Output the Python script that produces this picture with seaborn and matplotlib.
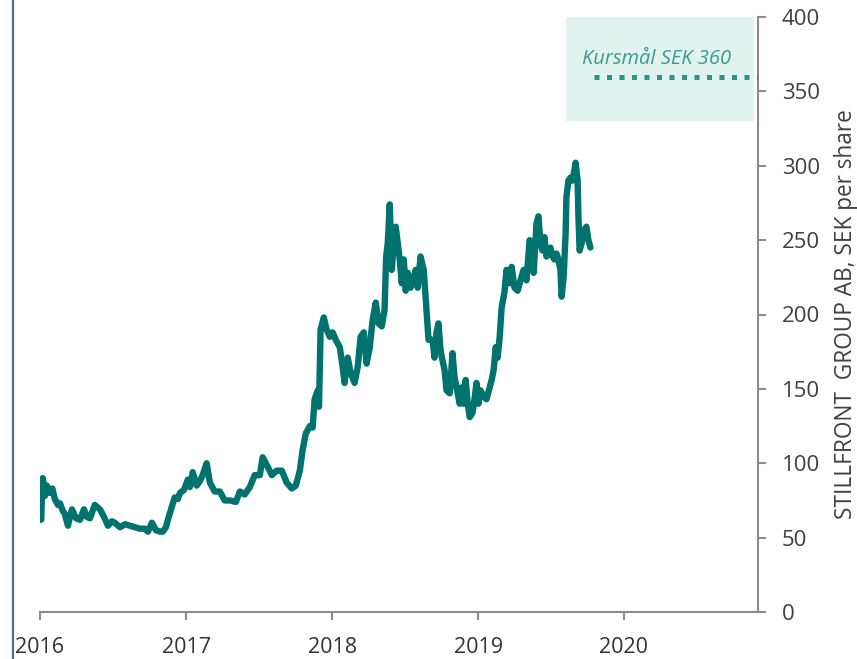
import matplotlib
matplotlib.use("Agg")
import matplotlib.pyplot as plt
import matplotlib.dates as mdates
from matplotlib.lines import Line2D
from matplotlib.patches import Rectangle
import pandas as pd
import seaborn as sns

dates = [
    "2016-01-04", "2016-01-06", "2016-01-08", "2016-01-13", "2016-01-18", "2016-01-26",
    "2016-02-01", "2016-02-07", "2016-02-15", "2016-02-20", "2016-02-27", "2016-03-03",
    "2016-03-11", "2016-03-16", "2016-03-21", "2016-03-31", "2016-04-10", "2016-04-20",
    "2016-04-27", "2016-05-05", "2016-05-17", "2016-05-30", "2016-06-09", "2016-06-19",
    "2016-06-29", "2016-07-06", "2016-07-19", "2016-08-01", "2016-08-13", "2016-08-25",
    "2016-09-07", "2016-09-19", "2016-09-27", "2016-10-07", "2016-10-17", "2016-10-27",
    "2016-11-03", "2016-11-11", "2016-11-16", "2016-11-26", "2016-12-03", "2016-12-11",
    "2016-12-16", "2016-12-26", "2017-01-05", "2017-01-10", "2017-01-17", "2017-01-27",
    "2017-02-04", "2017-02-11", "2017-02-21", "2017-03-01", "2017-03-13", "2017-03-26",
    "2017-04-07", "2017-04-20", "2017-05-05", "2017-05-15", "2017-05-27", "2017-06-09",
    "2017-06-21", "2017-07-04", "2017-07-11", "2017-07-21", "2017-08-03", "2017-08-15",
    "2017-08-28", "2017-09-09", "2017-09-22", "2017-10-02", "2017-10-12", "2017-10-19",
    "2017-10-27", "2017-11-06", "2017-11-13", "2017-11-18", "2017-11-26", "2017-11-29",
    "2017-12-03", "2017-12-11", "2017-12-18", "2017-12-26", "2018-01-02", "2018-01-10",
    "2018-01-20", "2018-01-27", "2018-02-01", "2018-02-09", "2018-02-16", "2018-02-26",
    "2018-03-06", "2018-03-13", "2018-03-21", "2018-03-28", "2018-04-05", "2018-04-12",
    "2018-04-20", "2018-04-27", "2018-05-05", "2018-05-12", "2018-05-16", "2018-05-20",
    "2018-05-25", "2018-05-30", "2018-06-04", "2018-06-09", "2018-06-14", "2018-06-19",
    "2018-06-24", "2018-06-29", "2018-07-04", "2018-07-09", "2018-07-16", "2018-07-24",
    "2018-07-29", "2018-08-03", "2018-08-10", "2018-08-18", "2018-08-23", "2018-08-30",
    "2018-09-09", "2018-09-14", "2018-09-19", "2018-09-24", "2018-09-29", "2018-10-04",
    "2018-10-09", "2018-10-14", "2018-10-22", "2018-10-29", "2018-11-03", "2018-11-08",
    "2018-11-16", "2018-11-21", "2018-11-26", "2018-12-01", "2018-12-06", "2018-12-11",
    "2018-12-18", "2018-12-23", "2018-12-28", "2019-01-02", "2019-01-07", "2019-01-15",
    "2019-01-22", "2019-01-30", "2019-02-04", "2019-02-09", "2019-02-14", "2019-02-19",
    "2019-02-24", "2019-03-01", "2019-03-08", "2019-03-13", "2019-03-21", "2019-03-26",
    "2019-04-02", "2019-04-10", "2019-04-17", "2019-04-25", "2019-05-02", "2019-05-10",
    "2019-05-15", "2019-05-20", "2019-05-27", "2019-06-01", "2019-06-06", "2019-06-11",
    "2019-06-16", "2019-06-21", "2019-06-26", "2019-07-01", "2019-07-06", "2019-07-11",
    "2019-07-16", "2019-07-21", "2019-07-26", "2019-07-29", "2019-08-03", "2019-08-08",
    "2019-08-10", "2019-08-15", "2019-08-20", "2019-08-25", "2019-08-30", "2019-09-02",
    "2019-09-07", "2019-09-09", "2019-09-12", "2019-09-17", "2019-09-22", "2019-09-24",
    "2019-09-29", "2019-10-04", "2019-10-09",
]
prices = [
    62, 80, 90, 78, 85, 80,
    83, 76, 72, 73, 68, 66,
    58, 64, 69, 63, 62, 69,
    64, 63, 72, 69, 64, 58,
    61, 60, 57, 59, 58, 57,
    56, 56, 54, 60, 55, 54,
    54, 57, 62, 71, 77, 76,
    80, 82, 89, 84, 94, 85,
    88, 92, 100, 87, 81, 81,
    75, 75, 74, 81, 79, 84,
    92, 92, 104, 99, 92, 95,
    95, 87, 83, 85, 95, 109,
    120, 125, 124, 143, 149, 138,
    190, 198, 190, 185, 188, 183,
    178, 165, 154, 171, 161, 154,
    165, 185, 188, 167, 178, 196,
    208, 194, 192, 203, 239, 248,
    274, 230, 248, 259, 248, 237,
    221, 237, 216, 228, 218, 225,
    230, 218, 239, 230, 210, 183,
    183, 171, 188, 194, 176, 169,
    163, 149, 147, 174, 158, 151,
    140, 151, 140, 156, 140, 131,
    134, 143, 154, 140, 149, 145,
    143, 151, 156, 163, 178, 171,
    185, 205, 215, 230, 221, 232,
    218, 216, 223, 230, 223, 250,
    239, 228, 261, 266, 248, 243,
    252, 239, 243, 245, 239, 237,
    241, 237, 230, 212, 225, 255,
    279, 290, 292, 290, 297, 302,
    290, 266, 243, 248, 255, 257,
    259, 250, 245,
]

target_label = "Kursmål SEK 360"
target_price = 360
target_box = (330, 400)
y_ticks = [0, 50, 100, 150, 200, 250, 300, 350, 400]
y_title = "STILLFRONT  GROUP AB, SEK per share"

df = pd.DataFrame({"date": pd.to_datetime(dates), "price": prices})

sns.set_style("white")
plt.rcParams["font.family"] = ["Open Sans", "DejaVu Sans"]

W, H = 857, 659
fig = plt.figure(figsize=(W / 100, H / 100), dpi=100)
ax = fig.add_axes([40 / W, (H - 612) / H, (757.5 - 40) / W, (612 - 17) / H])

line_col = "#00736e"
sns.lineplot(data=df, x="date", y="price", ax=ax, color=line_col, linewidth=4.6,
             solid_joinstyle="round", solid_capstyle="round")

x0 = pd.Timestamp("2016-01-01")
x1 = pd.Timestamp("2020-11-30")
ax.set_xlim(x0, x1)
ax.set_ylim(0, 400)

# Target box and dotted line
bx0 = mdates.date2num(pd.Timestamp("2019-08-08"))
bx1 = mdates.date2num(pd.Timestamp("2020-11-21"))
ax.add_patch(Rectangle((bx0, target_box[0]), bx1 - bx0, target_box[1] - target_box[0],
                       facecolor="#e0f3ef", edgecolor="none", zorder=0))
ax.plot([pd.Timestamp("2019-10-17"), x1], [target_price, target_price],
        color="#2a9587", linewidth=3.6, linestyle=(0, (1, 1.5)),
        dash_capstyle="butt", zorder=3)
ax.text(pd.Timestamp("2020-03-23"), 372, target_label, color="#3a9a8f",
        fontsize=14.5, style="italic", ha="center", va="center")

# Axes styling
for s in ["top", "left"]:
    ax.spines[s].set_visible(False)
for s in ["bottom", "right"]:
    ax.spines[s].set_color("#8c8c8c")
    ax.spines[s].set_linewidth(1.5)

ax.yaxis.tick_right()
ax.set_yticks(y_ticks)
ax.tick_params(axis="y", which="both", right=True, left=False, length=5.5, width=1.5,
               color="#8c8c8c", labelsize=16, labelcolor="#404040", pad=12)
ax.xaxis.set_major_locator(mdates.YearLocator())
ax.xaxis.set_major_formatter(mdates.DateFormatter("%Y"))
ax.tick_params(axis="x", which="both", bottom=True, length=6, width=1.5,
               color="#8c8c8c", labelsize=15.5, labelcolor="#333333", pad=12)
ax.set_xlabel("")
ax.set_ylabel("")

fig.text(846 / W, 1 - 314.5 / H, y_title, rotation=90, ha="center", va="center",
         fontsize=16.3, color="#404040")

# left frame border
fig.add_artist(Line2D([12.5 / W, 12.5 / W], [0, 1], color="#4f7079", linewidth=1.6))

fig.savefig("out.png", dpi=100)
